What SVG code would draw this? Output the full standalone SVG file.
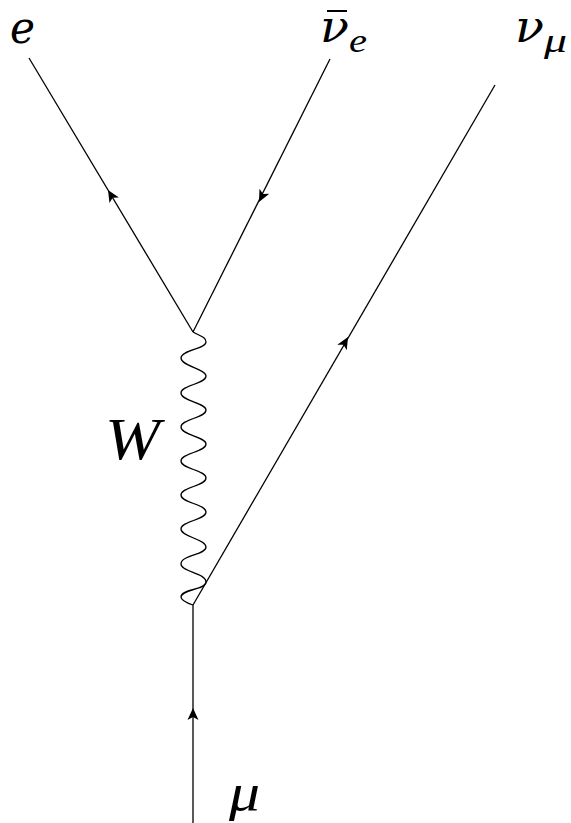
<svg xmlns="http://www.w3.org/2000/svg" width="571" height="823" viewBox="0 0 571 823">
<style>
.l{fill:none;stroke:#000;stroke-width:1.3}
.a{fill:#000}
.t{font-family:"Liberation Serif",serif;font-style:italic;fill:#000}
.d{font-family:"DejaVu Serif",serif;font-style:italic;fill:#000}
</style>
<defs><path id="h" d="M0 0L-5.500 12L0 9L5.500 12Z"/></defs>
<rect width="571" height="823" fill="#fff"/>
<g id="connectors">
<path id="e-line" class="l" d="M193 332L29 58"/>
<path id="nubar-line" class="l" d="M193 332L330 59"/>
<path id="numu-line" class="l" d="M193 605L495 85"/>
<path id="mu-line" class="l" d="M193 605V823"/>
<path id="w-line" class="l" d="M193 332C200 336 206 337 206 342C206 349 181 350 181 358C181 366 206 369 206 376C206 384 181 385 181 393C181 401 206 403 206 410C206 418 181 419 181 427C181 435 206 437 206 444C206 452 181 453 181 461C181 469 206 470 206 478C206 486 181 487 181 495C181 503 206 504 206 512C206 520 181 521 181 529C181 537 206 539 206 547C206 555 181 555 181 564C181 572 206 573 206 582C206 590 181 589 181 597C181 600 187 603 193 605"/>
<use href="#h" class="a" transform="translate(108 190) rotate(-31)"/>
<use href="#h" class="a" transform="translate(259 202) rotate(206.700)"/>
<use href="#h" class="a" transform="translate(348 337) rotate(30)"/>
<use href="#h" class="a" transform="translate(193 708)"/>
</g>
<g id="label-e"><text class="d" x="10" y="43" font-size="45" textLength="25" lengthAdjust="spacingAndGlyphs">e</text></g>
<g id="label-nubar"><text class="d" x="320" y="42" font-size="44" textLength="29" lengthAdjust="spacingAndGlyphs">ν</text><rect x="327" y="10" width="20" height="2"/><text class="t" x="349" y="52" font-size="33" textLength="18" lengthAdjust="spacingAndGlyphs">e</text></g>
<g id="label-numu"><text class="d" x="515" y="42" font-size="44" textLength="29" lengthAdjust="spacingAndGlyphs">ν</text><text class="t" x="544" y="52" font-size="33" textLength="23" lengthAdjust="spacingAndGlyphs">μ</text></g>
<g id="label-w"><text class="t" x="105" y="459" font-size="60" textLength="55" lengthAdjust="spacingAndGlyphs">W</text></g>
<g id="label-mu"><text class="t" x="229" y="810" font-size="52" textLength="31" lengthAdjust="spacingAndGlyphs">μ</text></g>
</svg>
